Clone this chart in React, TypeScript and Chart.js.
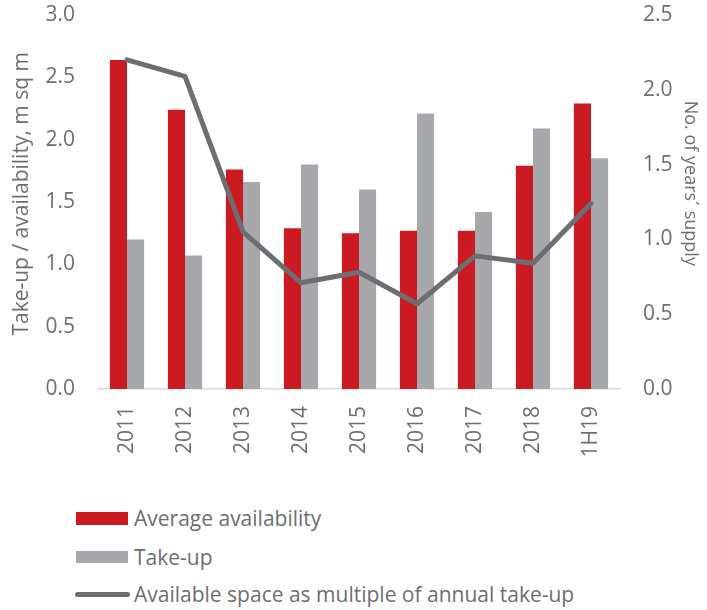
import React, { useEffect, useRef } from "react";
import { Chart, registerables } from "chart.js";

Chart.register(...registerables);

// ---- data ----
const categories = ["2011", "2012", "2013", "2014", "2015", "2016", "2017", "2018", "1H19"];
const availability = [2.64, 2.24, 1.76, 1.29, 1.25, 1.27, 1.27, 1.79, 2.29];
const takeUp = [1.2, 1.07, 1.66, 1.8, 1.6, 2.21, 1.42, 2.09, 1.85];
const yearsSupply = [2.2, 2.09, 1.05, 0.71, 0.78, 0.57, 0.89, 0.84, 1.24];
const leftTicks = [0, 0.5, 1.0, 1.5, 2.0, 2.5, 3.0];
const rightTicks = [0, 0.5, 1.0, 1.5, 2.0, 2.5];
const seriesNames = [
  "Average availability",
  "Take-up",
  "Available space as multiple of annual take-up",
];
const leftTitle = "Take-up / availability, m sq m";
const rightTitle = "No. of years\u00B4 supply";

// ---- styles ----
const RED = "#CC1A22";
const GREY = "#A7A8AC";
const LINE = "#6D6E71";
const TEXT = "#6D6E71";
const FONT = "'Open Sans', sans-serif";

export default function App() {
  const canvasRef = useRef<HTMLCanvasElement | null>(null);

  useEffect(() => {
    const canvas = canvasRef.current;
    if (!canvas) return;
    const chart = new Chart(canvas, {
      type: "bar",
      data: {
        labels: categories,
        datasets: [
          {
            type: "bar",
            label: seriesNames[0],
            data: availability,
            backgroundColor: RED,
            borderWidth: 0,
            yAxisID: "y",
            order: 1,
            categoryPercentage: 0.59,
            barPercentage: 1.0,
          },
          {
            type: "bar",
            label: seriesNames[1],
            data: takeUp,
            backgroundColor: GREY,
            borderWidth: 0,
            yAxisID: "y",
            order: 1,
            categoryPercentage: 0.59,
            barPercentage: 1.0,
          },
          {
            type: "line",
            label: seriesNames[2],
            data: yearsSupply,
            borderColor: LINE,
            backgroundColor: LINE,
            borderWidth: 5,
            pointRadius: 0,
            tension: 0,
            borderCapStyle: "round",
            borderJoinStyle: "round",
            yAxisID: "y1",
            order: 0,
          } as any,
        ],
      },
      options: {
        responsive: false,
        animation: false,
        layout: { padding: { top: 15, left: 0, right: 0, bottom: 0 } },
        plugins: {
          legend: { display: false },
          tooltip: { enabled: false },
        },
        scales: {
          x: {
            grid: { display: false, drawTicks: false },
            border: { display: true, color: "#D9D9D9", width: 1.5 },
            ticks: {
              color: TEXT,
              font: { family: FONT, size: 21 },
              minRotation: 90,
              maxRotation: 90,
              autoSkip: false,
              padding: 17,
            },
            afterFit: (s: any) => {
              s.height = 91;
            },
          },
          y: {
            position: "left",
            min: 0,
            max: 3,
            grid: { display: false, drawTicks: false },
            border: { display: false },
            ticks: {
              color: TEXT,
              font: { family: FONT, size: 21 },
              padding: 23,
              callback: (v: any) => Number(v).toFixed(1),
            },
            afterBuildTicks: (s: any) => {
              s.ticks = leftTicks.map((v) => ({ value: v }));
            },
            title: {
              display: true,
              text: "   " + leftTitle,
              color: TEXT,
              font: { family: FONT, size: 21 },
              padding: { top: 9, bottom: 0 },
            },
            afterFit: (s: any) => {
              s.width = 98;
              s.paddingTop = 12;
              s.paddingBottom = 12;
            },
          },
          y1: {
            position: "right",
            min: 0,
            max: 2.5,
            grid: { display: false, drawTicks: false },
            border: { display: false },
            ticks: {
              color: TEXT,
              font: { family: FONT, size: 21 },
              padding: 23,
              callback: (v: any) => Number(v).toFixed(1),
            },
            afterBuildTicks: (s: any) => {
              s.ticks = rightTicks.map((v) => ({ value: v }));
            },
            title: {
              display: true,
              text: rightTitle + "        ",
              color: TEXT,
              font: { family: FONT, size: 18 },
              padding: { top: 6, bottom: 0 },
            },
            afterFit: (s: any) => {
              s.width = 87;
              s.paddingTop = 12;
              s.paddingBottom = 12;
            },
          },
        },
      } as any,
    });
    return () => chart.destroy();
  }, []);

  const textStyle: React.CSSProperties = {
    fontFamily: FONT,
    fontSize: 21,
    color: TEXT,
    lineHeight: "24px",
    whiteSpace: "nowrap",
  };
  const row = (center: number): React.CSSProperties => ({
    position: "absolute",
    left: 75,
    top: center - 12,
    height: 24,
    display: "flex",
    alignItems: "center",
  });

  return (
    <div
      style={{
        position: "fixed",
        left: 0,
        top: 0,
        width: 707,
        height: 610,
        background: "#fff",
        overflow: "hidden",
      }}
    >
      <canvas ref={canvasRef} width={707} height={480} style={{ display: "block" }} />
      <div style={row(518)}>
        <span style={{ display: "inline-block", width: 52, height: 13, background: RED, marginLeft: 1, marginRight: 6 }} />
        <span style={textStyle}>{seriesNames[0]}</span>
      </div>
      <div style={row(557)}>
        <span style={{ display: "inline-block", width: 52, height: 12, background: GREY, marginLeft: 1, marginRight: 6 }} />
        <span style={textStyle}>{seriesNames[1]}</span>
      </div>
      <div style={row(594)}>
        <span style={{ display: "inline-block", width: 55, height: 5, borderRadius: 3, background: LINE, marginRight: 4 }} />
        <span style={textStyle}>{seriesNames[2]}</span>
      </div>
    </div>
  );
}
